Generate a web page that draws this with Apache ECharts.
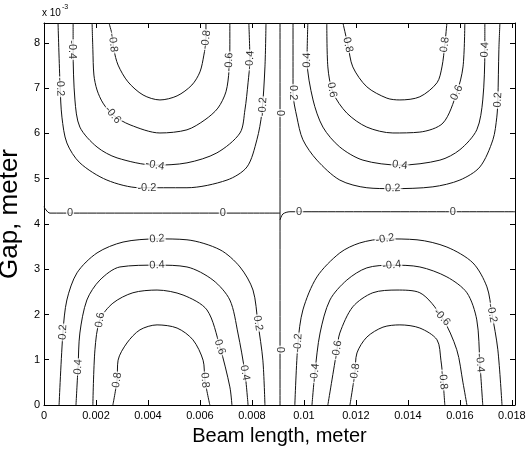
<!DOCTYPE html>
<html lang="en">
<head>
  <meta charset="UTF-8">
  <title>Contour</title>
  <style>
    html, body { margin:0; padding:0; background:#fff; }
    #chart { width:532px; height:450px; }
  </style>
</head>
<body>
  <div id="chart"></div>
  <script src="https://cdn.jsdelivr.net/npm/echarts/dist/echarts.min.js"></script>
  <script>
    // x in 1e-3 m (labels shown in meters), y in 1e-3 m
    var xMax = 18.12, yMax = 8.44;

    // top-left quadrant (negative)
    var tlM08 = [[2.50,8.44],[2.62,8.18],[2.69,7.85],[2.85,7.51],[3.23,7.14],[3.81,6.85],[4.46,6.74],[5.12,6.83],[5.69,7.07],[6.00,7.36],[6.15,7.73],[6.23,8.07],[6.23,8.44]];
    var tlM06 = [[1.85,8.44],[1.88,7.85],[1.92,7.29],[2.04,6.96],[2.27,6.67],[2.65,6.41],[3.31,6.19],[4.46,6.01],[5.50,6.08],[6.19,6.30],[6.69,6.56],[7.00,6.92],[7.12,7.40],[7.15,7.96],[7.15,8.44]];
    var tlM04 = [[1.12,8.44],[1.12,7.85],[1.19,6.74],[1.38,6.14],[2.04,5.70],[2.81,5.46],[4.27,5.30],[5.50,5.35],[6.65,5.57],[7.54,6.01],[7.73,6.52],[7.85,7.12],[7.92,7.62],[7.88,8.44]];
    var tlM02 = [[0.54,8.44],[0.62,7.03],[0.69,6.36],[0.88,5.79],[1.38,5.35],[2.42,4.97],[3.69,4.80],[5.50,4.80],[7.04,4.97],[7.81,5.26],[8.19,5.86],[8.38,6.45],[8.50,7.47],[8.54,8.44]];

    // top-right quadrant (positive)
    var trP02 = [[9.58,8.44],[9.58,6.90],[9.73,6.36],[9.96,5.86],[10.50,5.41],[11.38,4.97],[12.42,4.80],[13.42,4.78],[14.96,4.82],[16.00,4.97],[16.77,5.26],[17.27,5.86],[17.42,6.36],[17.46,6.74],[17.50,7.85],[17.54,8.44]];
    var trP04 = [[10.15,8.44],[10.12,7.62],[10.35,6.74],[10.73,6.14],[11.38,5.70],[12.27,5.41],[13.69,5.30],[15.23,5.41],[16.00,5.64],[16.65,6.08],[16.88,6.74],[16.96,7.85],[16.96,8.44]];
    var trP06 = [[10.88,8.44],[10.92,7.47],[11.12,6.90],[11.65,6.45],[12.42,6.14],[13.42,6.01],[14.46,6.03],[15.35,6.23],[15.88,6.90],[16.12,7.47],[16.19,8.44]];
    var trP08 = [[11.50,8.44],[11.69,7.96],[11.88,7.47],[12.42,7.03],[13.19,6.78],[13.69,6.74],[14.46,6.81],[15.12,7.12],[15.31,7.47],[15.42,7.96],[15.50,8.44]];

    // bottom-left quadrant (positive)
    var blP02 = [[0.58,0],[0.73,1.61],[0.88,2.32],[1.27,2.92],[2.04,3.36],[3.04,3.60],[4.35,3.67],[5.50,3.65],[6.77,3.43],[7.54,3.05],[8.04,2.54],[8.23,1.81],[8.42,0.99],[8.50,0]];
    var blP04 = [[1.23,0],[1.31,0.84],[1.38,1.59],[1.65,2.32],[2.15,2.76],[2.92,3.05],[4.35,3.09],[5.50,3.05],[6.50,2.76],[7.15,2.32],[7.46,1.59],[7.73,0.71],[7.85,0]];
    var blP06 = [[1.88,0],[1.96,1.22],[2.15,1.88],[2.65,2.25],[3.42,2.48],[4.35,2.54],[5.35,2.43],[6.27,2.10],[6.77,1.28],[7.15,0.40],[7.23,0]];
    var blP08 = [[2.65,0],[2.81,0.55],[2.85,0.99],[3.19,1.37],[3.69,1.66],[4.35,1.77],[5.12,1.70],[5.73,1.44],[6.12,0.99],[6.19,0.55],[6.38,0]];

    // bottom-right quadrant (negative)
    var brM02 = [[9.65,0],[9.77,1.37],[9.96,2.10],[10.50,2.83],[11.38,3.36],[12.15,3.58],[13.12,3.67],[14.35,3.65],[15.50,3.49],[16.50,3.14],[17.04,2.61],[17.23,2.03],[17.46,1.22],[17.62,0]];
    var brM04 = [[10.31,0],[10.42,0.71],[10.62,1.59],[11.00,2.32],[11.65,2.76],[12.42,3.03],[13.38,3.09],[14.46,3.05],[15.50,2.83],[16.27,2.48],[16.65,1.88],[16.77,0.93],[16.88,0]];
    var brM06 = [[10.92,0],[11.27,1.22],[11.38,1.59],[11.88,2.17],[12.65,2.48],[13.58,2.54],[14.46,2.48],[15.31,1.94],[15.88,1.22],[16.12,0.49],[16.27,0]];
    var brM08 = [[11.77,0],[11.96,0.71],[12.04,1.15],[12.42,1.50],[13.04,1.72],[13.69,1.77],[14.46,1.70],[15.12,1.44],[15.27,0.99],[15.35,0.55],[15.42,0]];

    // zero level
    var zeroV = [[9.08,0],[9.08,8.44]];
    var zeroH = [[0,4.38],[0.23,4.24],[9.08,4.24]];
    var zeroH2 = [[9.08,4.09],[9.19,4.22],[9.46,4.27],[18.12,4.27]];

    // contour labels [x, y, text]
    var labelsTL = [[2.65,8.00,'-0.8'],[6.23,8.07,'-0.8'],[2.65,6.41,'-0.6'],[7.12,7.58,'-0.6'],
      [1.08,7.85,'-0.4'],[4.27,5.30,'-0.4'],[7.92,7.62,'-0.4'],[0.62,7.03,'-0.2'],[3.96,4.80,'-0.2'],[8.42,6.59,'-0.2']];
    var labelsTR = [[11.69,7.96,'0.8'],[15.42,7.96,'0.8'],[11.08,6.96,'0.6'],[15.88,6.90,'0.6'],
      [10.12,7.62,'0.4'],[13.69,5.30,'0.4'],[16.96,7.85,'0.4'],[9.58,6.90,'0.2'],[13.42,4.79,'0.2'],[17.46,6.74,'0.2']];
    var labelsBL = [[0.73,1.61,'0.2'],[4.35,3.67,'0.2'],[8.23,1.81,'0.2'],[1.31,0.84,'0.4'],[4.35,3.09,'0.4'],[7.73,0.71,'0.4'],
      [2.15,1.88,'0.6'],[6.77,1.28,'0.6'],[2.81,0.55,'0.8'],[6.19,0.55,'0.8']];
    var labelsBR = [[9.77,1.37,'-0.2'],[13.12,3.67,'-0.2'],[17.23,2.03,'-0.2'],[10.42,0.71,'-0.4'],[13.38,3.09,'-0.4'],[16.77,0.93,'-0.4'],
      [11.27,1.22,'-0.6'],[15.31,1.94,'-0.6'],[11.96,0.71,'-0.8'],[15.35,0.55,'-0.8']];
    var labelsZero = [[9.08,6.45,'0'],[9.08,1.22,'0'],[1.00,4.24,'0'],[6.88,4.24,'0'],[9.81,4.27,'0'],[15.73,4.27,'0']];

    var contours = [
      {level:'-0.8', pts:tlM08}, {level:'-0.6', pts:tlM06}, {level:'-0.4', pts:tlM04}, {level:'-0.2', pts:tlM02},
      {level:'0.2', pts:trP02}, {level:'0.4', pts:trP04}, {level:'0.6', pts:trP06}, {level:'0.8', pts:trP08},
      {level:'0.2', pts:blP02}, {level:'0.4', pts:blP04}, {level:'0.6', pts:blP06}, {level:'0.8', pts:blP08},
      {level:'-0.2', pts:brM02}, {level:'-0.4', pts:brM04}, {level:'-0.6', pts:brM06}, {level:'-0.8', pts:brM08},
      {level:'0', pts:zeroV}, {level:'0', pts:zeroH}, {level:'0', pts:zeroH2}
    ];
    var allLabels = labelsTL.concat(labelsTR, labelsBL, labelsBR, labelsZero);

    var font = 'Liberation Sans, Arial, sans-serif';

    var series = contours.map(function (c) {
      return {
        type: 'line', data: c.pts, showSymbol: false, smooth: 0.3, silent: true,
        lineStyle: { color: '#111', width: 1 }, z: 2
      };
    });
    series.push({
      type: 'scatter', symbolSize: 1, silent: true, z: 5,
      itemStyle: { color: 'rgba(0,0,0,0)' },
      label: {
        show: true, position: 'inside', formatter: '{b}', color: '#000',
        fontSize: 11, fontFamily: font, backgroundColor: '#fff', padding: [0, 1]
      },
      data: allLabels.map(function (l) { return { name: l[2], value: [l[0], l[1]] }; })
    });

    var frameAxis = {
      min: 0, type: 'value', axisLine: { show: true, onZero: false, lineStyle: { color: '#000', width: 1 } },
      axisTick: { inside: true, length: 5, lineStyle: { color: '#000' } },
      splitLine: { show: false }
    };

    var option = {
      animation: false,
      backgroundColor: '#fff',
      grid: { left: 44, right: 17, top: 23, bottom: 45, containLabel: false, outerBoundsMode: 'none' },
      xAxis: [
        Object.assign({}, frameAxis, {
          max: xMax, interval: 2, position: 'bottom',
          name: 'Beam length, meter', nameLocation: 'middle', nameGap: 21,
          nameTextStyle: { fontSize: 20, fontFamily: font, color: '#000' },
          axisLabel: {
            fontSize: 11, fontFamily: font, color: '#000', margin: 5, showMaxLabel: false,
            formatter: function (v) { return v === 0 ? '0' : String(+(v / 1000).toFixed(3)); }
          }
        }),
        Object.assign({}, frameAxis, { max: xMax, interval: 2, position: 'top', axisLabel: { show: false } })
      ],
      yAxis: [
        Object.assign({}, frameAxis, {
          max: yMax, interval: 1, position: 'left',
          name: 'Gap, meter', nameLocation: 'middle', nameGap: 20,
          nameTextStyle: { fontSize: 26, fontFamily: font, color: '#000' },
          axisLabel: { fontSize: 11, fontFamily: font, color: '#000', margin: 4, showMaxLabel: false }
        }),
        Object.assign({}, frameAxis, { max: yMax, interval: 1, position: 'right', axisLabel: { show: false } })
      ],
      graphic: [
        { type: 'text', left: 42, top: 8, style: { text: 'x 10', fontSize: 10, fontFamily: font, fill: '#000' } },
        { type: 'text', left: 62, top: 4, style: { text: '-3', fontSize: 7, fontFamily: font, fill: '#000' } }
      ],
      series: series
    };

    var chart = echarts.init(document.getElementById('chart'));
    chart.setOption(option);

    // rotate each label along its contour line
    function px(p) { return chart.convertToPixel({ seriesIndex: 0 }, p); }
    function segDist(p, a, b) {
      var dx = b[0] - a[0], dy = b[1] - a[1];
      var t = ((p[0] - a[0]) * dx + (p[1] - a[1]) * dy) / (dx * dx + dy * dy || 1);
      t = Math.max(0, Math.min(1, t));
      var qx = a[0] + t * dx - p[0], qy = a[1] + t * dy - p[1];
      return Math.sqrt(qx * qx + qy * qy);
    }
    var labelData = allLabels.map(function (l) {
      var p = px([l[0], l[1]]);
      var best = null, bestD = Infinity;
      contours.forEach(function (c) {
        if (c.level !== l[2]) return;
        for (var i = 0; i < c.pts.length - 1; i++) {
          var a = px(c.pts[i]), b = px(c.pts[i + 1]);
          var d = segDist(p, a, b);
          if (d < bestD) { bestD = d; best = [a, b]; }
        }
      });
      var ang = Math.atan2(-(best[1][1] - best[0][1]), best[1][0] - best[0][0]) * 180 / Math.PI;
      if (ang >= 90) ang -= 180;
      if (ang < -90) ang += 180;
      return { name: l[2], value: [l[0], l[1]], label: { rotate: ang } };
    });
    series[series.length - 1].data = labelData;
    chart.setOption({ series: series });
  </script>
</body>
</html>
